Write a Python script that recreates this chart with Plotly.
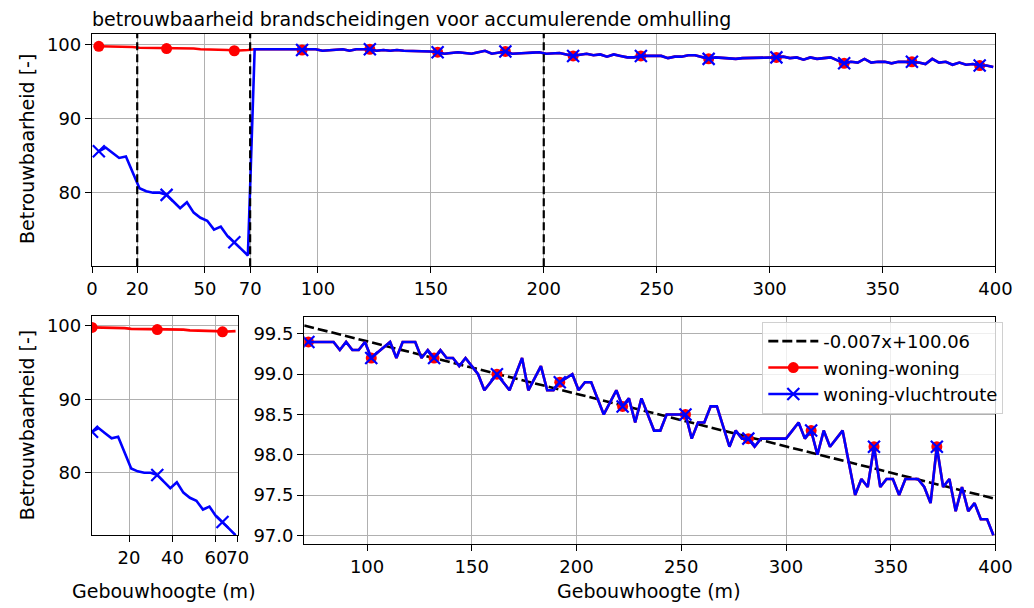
import numpy as np
import plotly.graph_objects as go

# ---- data -------------------------------------------------------------
# building heights (m), sampled every 3 m
heights_low = np.arange(3, 70, 3)      # 3 .. 69
heights_high = np.arange(72, 400, 3)   # 72 .. 399

# reliability [-] for the low range
woning_low = [99.8, 99.8, 99.7, 99.7, 99.7, 99.7, 99.6, 99.6, 99.6, 99.5, 99.5, 99.5,
              99.5, 99.5, 99.5, 99.4, 99.4, 99.4, 99.4, 99.3, 99.2, 99.2, 99.3]
vlucht_low = [85.6, 86.1, 85.4, 84.7, 84.9, 82.8, 80.6, 80.2, 80.0, 80.0, 79.7, 78.8,
              77.9, 78.7, 77.3, 76.6, 76.2, 75.0, 75.4, 74.1, 73.3, 72.4, 71.5]

# reliability [-] above 70 m (identical for both scenarios)
high_values = [
    99.4, 99.4, 99.4, 99.4, 99.4, 99.3, 99.4, 99.3, 99.3, 99.4,
    99.2, 99.27, 99.33, 99.4, 99.2, 99.4, 99.4, 99.4, 99.2, 99.3,
    99.2, 99.3, 99.2, 99.2, 99.1, 99.2, 99.1, 99.0, 98.8, 98.9,
    99.0, 98.9, 98.8, 99.0, 99.2, 98.8, 98.95, 99.1, 98.8, 98.8,
    98.9, 98.95, 99.0, 98.8, 98.9, 98.9, 98.7, 98.5, 98.65, 98.8,
    98.6, 98.7, 98.4, 98.7, 98.5, 98.3, 98.3, 98.5, 98.5, 98.5,
    98.5, 98.2, 98.4, 98.4, 98.6, 98.6, 98.35, 98.1, 98.3, 98.2,
    98.2, 98.1, 98.2, 98.2, 98.2, 98.2, 98.2, 98.3, 98.4, 98.2,
    98.3, 98.0, 98.3, 98.1, 98.2, 98.3, 97.9, 97.5, 97.7, 97.6,
    98.1, 97.6, 97.7, 97.7, 97.5, 97.7, 97.7, 97.7, 97.6, 97.4,
    98.1, 97.6, 97.7, 97.3, 97.6, 97.3, 97.4, 97.2, 97.2, 97.0,
]

# linear trend fitted to the high range
trend_slope = -0.00652
trend_intercept = 100.06
trend_x = [70, 400]

# markers on every n-th sample
MARK_EVERY = 10

# phase boundaries in the overview (m)
boundaries = [20, 70, 200]

x_all = np.concatenate([heights_low, heights_high])
woning_all = np.array(woning_low + high_values)
vlucht_all = np.array(vlucht_low + high_values)

# ---- styling ----------------------------------------------------------
W, H = 1034, 608
FONT = "DejaVu Sans"
RED = "#ff0000"
BLUE = "#0000ff"
LW = 2.6
TICK_SIZE = 18
LABEL_SIZE = 19


def fx(p):
    return p / W


def fy(p):
    return 1 - p / H


fig = go.Figure()


def add_pair(x, woning, vlucht, xa, ya):
    x = np.asarray(x)
    woning = np.asarray(woning)
    vlucht = np.asarray(vlucht)
    fig.add_trace(go.Scatter(x=x, y=woning, mode="lines", line=dict(color=RED, width=LW),
                             xaxis=xa, yaxis=ya, showlegend=False, hoverinfo="skip"))
    fig.add_trace(go.Scatter(x=x[::MARK_EVERY], y=woning[::MARK_EVERY], mode="markers",
                             marker=dict(color=RED, size=11, symbol="circle"),
                             xaxis=xa, yaxis=ya, showlegend=False, hoverinfo="skip"))
    fig.add_trace(go.Scatter(x=x, y=vlucht, mode="lines", line=dict(color=BLUE, width=LW),
                             xaxis=xa, yaxis=ya, showlegend=False, hoverinfo="skip"))
    fig.add_trace(go.Scatter(x=x[::MARK_EVERY], y=vlucht[::MARK_EVERY], mode="markers",
                             marker=dict(color=BLUE, size=12, symbol="x-thin",
                                         line=dict(color=BLUE, width=2.2)),
                             xaxis=xa, yaxis=ya, showlegend=False, hoverinfo="skip"))


# overview panel
add_pair(x_all, woning_all, vlucht_all, "x", "y")

# low-rise panel
add_pair(heights_low, woning_low, vlucht_low, "x2", "y2")

# high-rise panel with trend line
trend_y = [trend_slope * v + trend_intercept for v in trend_x]
trend_label = f"{trend_slope:.3f}x+{trend_intercept:.2f}"
fig.add_trace(go.Scatter(x=trend_x, y=trend_y, mode="lines",
                         line=dict(color="black", width=LW, dash="10px,4px"),
                         xaxis="x3", yaxis="y3", name=trend_label, showlegend=True,
                         hoverinfo="skip"))
add_pair(heights_high, high_values, high_values, "x3", "y3")

# legend entries
fig.add_trace(go.Scatter(x=[None], y=[None], mode="lines+markers", name="woning-woning",
                         line=dict(color=RED, width=LW),
                         marker=dict(color=RED, size=11, symbol="circle"),
                         xaxis="x3", yaxis="y3"))
fig.add_trace(go.Scatter(x=[None], y=[None], mode="lines+markers", name="woning-vluchtroute",
                         line=dict(color=BLUE, width=LW),
                         marker=dict(color=BLUE, size=12, symbol="x-thin",
                                     line=dict(color=BLUE, width=2.2)),
                         xaxis="x3", yaxis="y3"))

# dashed phase boundaries
for b in boundaries:
    fig.add_shape(type="line", xref="x", yref="y domain", x0=b, x1=b, y0=0, y1=1,
                  line=dict(color="black", width=2.2, dash="8px,4px"))

axis_common = dict(showline=True, linecolor="black", linewidth=1.3, mirror=True,
                   ticks="outside", ticklen=6, tickwidth=1.3, tickcolor="black",
                   showgrid=True, gridcolor="#b0b0b0", gridwidth=1, zeroline=False,
                   tickangle=0,
                   tickfont=dict(size=TICK_SIZE, color="black", family=FONT))

fig.update_layout(
    width=W, height=H,
    margin=dict(l=0, r=0, t=0, b=0),
    paper_bgcolor="white", plot_bgcolor="white",
    font=dict(family=FONT, size=TICK_SIZE, color="black"),
    xaxis=dict(domain=[fx(88), fx(1012)], range=[0, 400],
               tickvals=[0, 20, 50, 70, 100, 150, 200, 250, 300, 350, 400],
               anchor="y", **axis_common),
    yaxis=dict(domain=[fy(266), fy(33)], range=[70.06, 101.48],
               tickvals=[80, 90, 100], anchor="x", **axis_common),
    xaxis2=dict(domain=[fx(88), fx(237)], range=[3, 70],
                tickvals=[20, 40, 60, 70], anchor="y2", **axis_common),
    yaxis2=dict(domain=[fy(536), fy(316)], range=[71.5, 101.36],
                tickvals=[80, 90, 100], anchor="x2", **axis_common),
    xaxis3=dict(domain=[fx(305), fx(1012)], range=[70, 400],
                tickvals=[100, 150, 200, 250, 300, 350, 400], anchor="y3", **axis_common),
    yaxis3=dict(domain=[fy(545), fy(317)], range=[96.89, 99.71],
                tickvals=[97.0, 97.5, 98.0, 98.5, 99.0, 99.5], tickformat=".1f",
                anchor="x3", **axis_common),
    legend=dict(x=fx(1020), y=fy(322), xanchor="right", yanchor="top",
                bgcolor="rgba(255,255,255,0.8)", bordercolor="#d0d0d0", borderwidth=1,
                itemwidth=50,
                font=dict(size=TICK_SIZE, family=FONT, color="black"), tracegroupgap=0),
    showlegend=True,
)

annotations = [
    dict(text="betrouwbaarheid brandscheidingen voor accumulerende omhulling",
         x=fx(86), y=fy(18), xanchor="left", yanchor="middle"),
    dict(text="Betrouwbaarheid [-]", x=fx(21), y=fy(149), textangle=-90,
         xanchor="center", yanchor="middle"),
    dict(text="Betrouwbaarheid [-]", x=fx(21), y=fy(426), textangle=-90,
         xanchor="center", yanchor="middle"),
    dict(text="Gebouwhoogte (m)", x=fx(162), y=fy(592), xanchor="center", yanchor="middle"),
    dict(text="Gebouwhoogte (m)", x=fx(658), y=fy(592), xanchor="center", yanchor="middle"),
]
for a in annotations:
    fig.add_annotation(xref="paper", yref="paper", showarrow=False,
                       font=dict(size=LABEL_SIZE, family=FONT, color="black"), **a)

fig.write_html("out.html")
